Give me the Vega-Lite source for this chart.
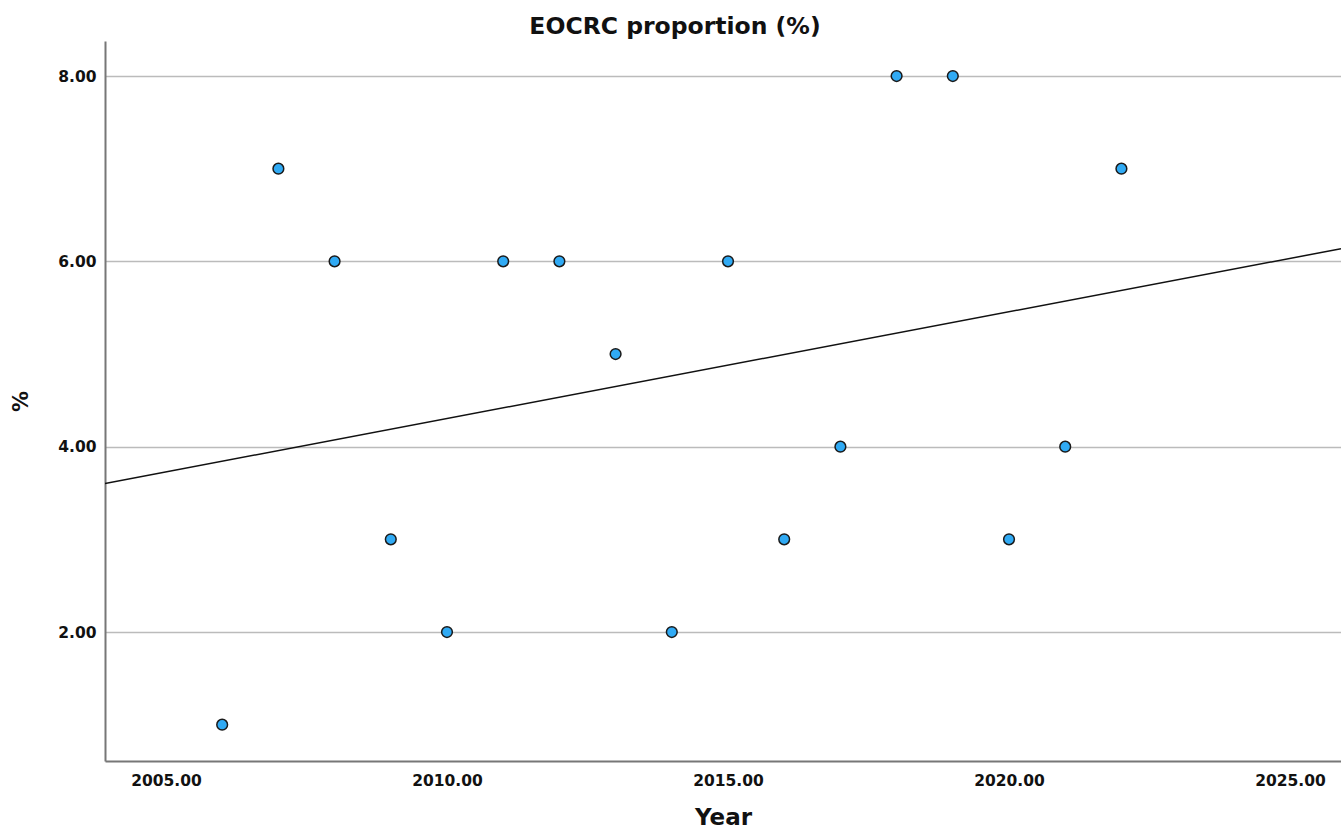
{
  "$schema": "https://vega.github.io/schema/vega-lite/v6.json",
  "autosize": "none",
  "width": 1236,
  "height": 720,
  "padding": {"left": 105, "top": 41, "right": 0, "bottom": 69},
  "background": "white",
  "title": {
    "text": "EOCRC proportion (%)",
    "font": "DejaVu Sans",
    "fontSize": 23.5,
    "fontWeight": "bold",
    "color": "#111",
    "anchor": "middle",
    "dx": -48,
    "offset": 3
  },
  "data": {
    "values": [
      {"Year": 2006, "pct": 1},
      {"Year": 2007, "pct": 7},
      {"Year": 2008, "pct": 6},
      {"Year": 2009, "pct": 3},
      {"Year": 2010, "pct": 2},
      {"Year": 2011, "pct": 6},
      {"Year": 2012, "pct": 6},
      {"Year": 2013, "pct": 5},
      {"Year": 2014, "pct": 2},
      {"Year": 2015, "pct": 6},
      {"Year": 2016, "pct": 3},
      {"Year": 2017, "pct": 4},
      {"Year": 2018, "pct": 8},
      {"Year": 2019, "pct": 8},
      {"Year": 2020, "pct": 3},
      {"Year": 2021, "pct": 4},
      {"Year": 2022, "pct": 7}
    ]
  },
  "config": {
    "view": {"stroke": null},
    "axis": {
      "labelFont": "DejaVu Sans",
      "labelFontWeight": "bold",
      "labelFontSize": 15.5,
      "labelColor": "#111",
      "titleFont": "DejaVu Sans",
      "titleFontWeight": "bold",
      "titleColor": "#111",
      "domainColor": "#777",
      "domainWidth": 2,
      "ticks": false
    }
  },
  "layer": [
    {
      "mark": {"type": "point", "filled": true, "fill": "#30aaf4", "stroke": "#1a1a1a", "strokeWidth": 1.5, "size": 115, "opacity": 1},
      "encoding": {
        "x": {
          "field": "Year", "type": "quantitative",
          "scale": {"domain": [2003.915, 2025.907], "nice": false, "zero": false},
          "axis": {"values": [2005, 2010, 2015, 2020, 2025], "format": ".2f", "grid": false, "labelPadding": 12, "title": "Year", "titleFontSize": 23, "titlePadding": 18}
        },
        "y": {
          "field": "pct", "type": "quantitative",
          "scale": {"domain": [0.608, 8.378], "nice": false, "zero": false},
          "axis": {"values": [2, 4, 6, 8], "format": ".2f", "grid": true, "gridColor": "#bbbbbb", "gridWidth": 1.5, "labelPadding": 9, "title": "%", "titleFontSize": 21, "titlePadding": 26}
        }
      }
    },
    {
      "transform": [{"regression": "pct", "on": "Year", "extent": [2003.915, 2025.907]}],
      "mark": {"type": "line", "color": "#111", "strokeWidth": 1.5, "clip": true},
      "encoding": {
        "x": {"field": "Year", "type": "quantitative"},
        "y": {"field": "pct", "type": "quantitative"}
      }
    }
  ]
}
